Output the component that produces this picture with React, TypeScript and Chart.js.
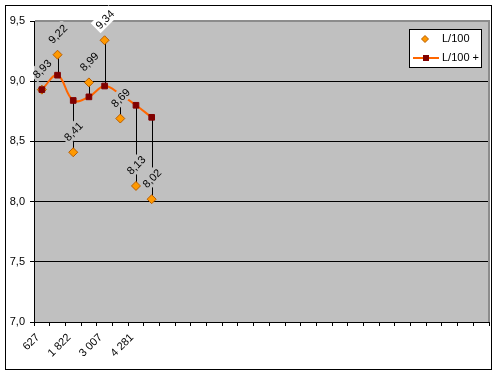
import React, { useEffect, useRef } from 'react';
import { Chart, registerables } from 'chart.js';

Chart.register(...registerables);

// ---- data ----
const categories = [
  '627', '', '1 822', '', '3 007', '', '4 281', '',
  '', '', '', '', '', '', '', '', '', '', '', '', '', '', '', '', '', '', '', '', '',
];
const l100 = [8.93, 9.22, 8.41, 8.99, 9.34, 8.69, 8.13, 8.02];
const l100Plus = [8.93, 9.05, 8.84, 8.87, 8.96, 8.89, 8.8, 8.7];
const seriesNames = ['L/100', 'L/100 +'];
const yMin = 7.0;
const yMax = 9.5;
const yStep = 0.5;

const FONT = '"Liberation Sans", Arial, sans-serif';
const PLOT_BG = '#C0C0C0';
const DIAMOND_FILL = '#FF9900';
const DIAMOND_BORDER = '#B85C00';
const SQUARE = '#800000';
const LINE = '#FF6600';

const fmt = (v: number, d: number) => v.toFixed(d).replace('.', ',');

const excelPlugin = {
  id: 'excelLook',
  beforeDraw(chart: any) {
    const { ctx, chartArea: a } = chart;
    ctx.save();
    ctx.fillStyle = '#FFFFFF';
    ctx.fillRect(0, 0, chart.width, chart.height);
    ctx.strokeStyle = '#000';
    ctx.lineWidth = 1;
    ctx.strokeRect(5.5, 5.5, 486, 364);
    ctx.fillStyle = PLOT_BG;
    ctx.fillRect(a.left, a.top, a.right - a.left, a.bottom - a.top);
    ctx.restore();
  },
  beforeDatasetsDraw(chart: any) {
    const { ctx, chartArea: a } = chart;
    ctx.save();
    // plot area border (top / right)
    ctx.strokeStyle = '#8C8C8C';
    ctx.lineWidth = 2;
    ctx.beginPath();
    ctx.moveTo(a.left + 1, a.top);
    ctx.lineTo(a.right, a.top);
    ctx.lineTo(a.right, a.bottom);
    ctx.stroke();
    // high-low lines
    const mD = chart.getDatasetMeta(1);
    const mS = chart.getDatasetMeta(0);
    ctx.strokeStyle = '#000';
    ctx.lineWidth = 1;
    for (let i = 0; i < l100.length; i++) {
      const p = mD.data[i];
      const q = mS.data[i];
      if (!p || !q) continue;
      const x = Math.round(p.x) + 0.5;
      ctx.beginPath();
      ctx.moveTo(x, p.y);
      ctx.lineTo(x, q.y);
      ctx.stroke();
    }
    ctx.restore();
  },
  afterDatasetsDraw(chart: any) {
    const { ctx, chartArea: a } = chart;
    const mD = chart.getDatasetMeta(1);
    ctx.save();
    ctx.font = '11px ' + FONT;
    mD.data.forEach((pt: any, i: number) => {
      const text = fmt(l100[i], 2);
      const cx = pt.x;
      const cy = pt.y - 21;
      const w = ctx.measureText(text).width + 4;
      const h = 14;
      const outside = cy < a.top + 6;
      ctx.save();
      if (!outside) {
        ctx.beginPath();
        ctx.rect(a.left, a.top, a.right - a.left, a.bottom - a.top);
        ctx.clip();
      }
      ctx.translate(cx, cy);
      ctx.rotate(-Math.PI / 4);
      ctx.fillStyle = outside ? '#FFFFFF' : PLOT_BG;
      ctx.fillRect(-w / 2, -h / 2, w, h);
      ctx.restore();
      ctx.save();
      ctx.translate(cx, cy);
      ctx.rotate(-Math.PI / 4);
      ctx.fillStyle = '#000';
      ctx.textAlign = 'center';
      ctx.textBaseline = 'middle';
      ctx.fillText(text, 0, 1);
      ctx.restore();
    });
    ctx.restore();
  },
  afterDraw(chart: any) {
    const { ctx } = chart;
    ctx.save();
    // legend box
    ctx.fillStyle = '#FFFFFF';
    ctx.fillRect(409, 29, 72, 38);
    ctx.strokeStyle = '#000';
    ctx.lineWidth = 1;
    ctx.strokeRect(409.5, 29.5, 72, 38);
    // diamond entry
    const dx = 425, dy = 39, r = 3.5;
    ctx.beginPath();
    ctx.moveTo(dx, dy - r);
    ctx.lineTo(dx + r, dy);
    ctx.lineTo(dx, dy + r);
    ctx.lineTo(dx - r, dy);
    ctx.closePath();
    ctx.fillStyle = DIAMOND_FILL;
    ctx.fill();
    ctx.strokeStyle = DIAMOND_BORDER;
    ctx.stroke();
    // line entry
    ctx.strokeStyle = LINE;
    ctx.lineWidth = 2;
    ctx.beginPath();
    ctx.moveTo(413, 58);
    ctx.lineTo(439, 58);
    ctx.stroke();
    ctx.fillStyle = SQUARE;
    ctx.fillRect(423, 55, 6, 6);
    // texts
    ctx.fillStyle = '#000';
    ctx.font = '11px ' + FONT;
    ctx.textAlign = 'left';
    ctx.textBaseline = 'middle';
    ctx.fillText(seriesNames[0], 442, 39);
    ctx.fillText(seriesNames[1], 442, 58);
    ctx.restore();
  },
};

export default function App() {
  const ref = useRef<HTMLCanvasElement | null>(null);

  useEffect(() => {
    if (!ref.current) return;
    const chart = new Chart(ref.current, {
      type: 'line',
      data: {
        labels: categories,
        datasets: [
          {
            label: seriesNames[1],
            data: l100Plus,
            borderColor: LINE,
            borderWidth: 2,
            tension: 0.4,
            pointStyle: 'rect',
            pointRadius: 4,
            pointBackgroundColor: SQUARE,
            pointBorderColor: SQUARE,
            pointBorderWidth: 1,
            fill: false,
            order: 0,
          },
          {
            label: seriesNames[0],
            data: l100,
            showLine: false,
            pointStyle: 'rectRot',
            pointRadius: 4.5,
            pointBackgroundColor: DIAMOND_FILL,
            pointBorderColor: DIAMOND_BORDER,
            pointBorderWidth: 1,
            order: 1,
          },
        ],
      },
      options: {
        animation: false,
        responsive: false,
        devicePixelRatio: 1,
        events: [],
        layout: { padding: { top: 21, right: 11, left: 0, bottom: 0 } },
        plugins: {
          legend: { display: false },
          tooltip: { enabled: false },
        },
        scales: {
          x: {
            type: 'category',
            offset: true,
            afterFit: (s: any) => {
              s.height = 54;
            },
            grid: {
              offset: true,
              drawOnChartArea: false,
              tickLength: 4,
              color: '#000',
              tickColor: '#000',
            },
            border: { color: '#000', width: 1 },
            ticks: {
              autoSkip: false,
              minRotation: 45,
              maxRotation: 45,
              padding: 5,
              labelOffset: -4,
              color: '#000',
              font: { family: FONT, size: 11 },
            },
          },
          y: {
            min: yMin,
            max: yMax,
            afterFit: (s: any) => {
              s.width = 34;
            },
            grid: {
              color: (c: any) =>
                c.tick && (c.tick.value === yMax || c.tick.value === yMin) ? 'rgba(0,0,0,0)' : '#000',
              tickColor: '#000',
              tickLength: 4,
              lineWidth: 1,
            },
            border: { color: '#000', width: 1 },
            ticks: {
              stepSize: yStep,
              padding: 5,
              color: '#000',
              font: { family: FONT, size: 11 },
              callback: (v: any) => fmt(Number(v), 1),
            },
          },
        },
      } as any,
      plugins: [excelPlugin],
    });
    return () => chart.destroy();
  }, []);

  return (
    <div style={{ position: 'fixed', left: 0, top: 0, width: 500, height: 376 }}>
      <canvas ref={ref} width={500} height={376} style={{ display: 'block' }} />
    </div>
  );
}
